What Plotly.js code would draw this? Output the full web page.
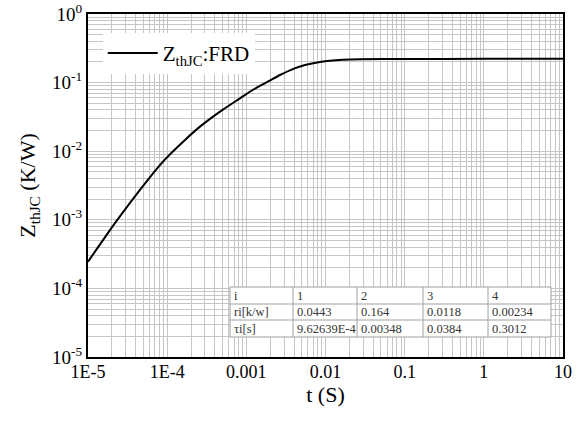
<!DOCTYPE html>
<html>
<head>
<meta charset="utf-8">
<script src="https://cdn.plot.ly/plotly-3.0.1.min.js"></script>
<style>html,body{margin:0;padding:0;background:#fff;}#chart{width:578px;height:421px;}</style>
</head>
<body>
<div id="chart"></div>
<script>
// Curve
const timeS = [1e-5, 2.26e-5, 5.67e-5, 9.4e-5, 1.68e-4, 2.6e-4, 5e-4, 8.3e-4, 1.11e-3, 1.5e-3, 2e-3, 2.66e-3, 4e-3, 5.5e-3, 8.5e-3, 0.0114, 0.0273, 0.1, 1, 10];
const zthJC = [2.45e-4, 9.4e-4, 3.8e-3, 7.6e-3, 0.0146, 0.0228, 0.040, 0.059, 0.0736, 0.090, 0.108, 0.129, 0.160, 0.180, 0.200, 0.209, 0.219, 0.221, 0.222, 0.222];
const seriesName = "Z<sub>thJC</sub>:FRD";

// Table content
const tableHeader = ["i", "1", "2", "3", "4"];
const tableRowR = ["ri[k/w]", "0.0443", "0.164", "0.0118", "0.00234"];
const tableRowTau = ["τi[s]", "9.62639E-4", "0.00348", "0.0384", "0.3012"];

// Axis ticks
const xTickVals = [1e-5, 1e-4, 1e-3, 1e-2, 0.1, 1, 10];
const xTickText = ["1E-5", "1E-4", "0.001", "0.01", "0.1", "1", "10"];
const yTickVals = [1e-5, 1e-4, 1e-3, 1e-2, 1e-1, 1];
const yTickText = ["10<sup>-5</sup>", "10<sup>-4</sup>", "10<sup>-3</sup>", "10<sup>-2</sup>", "10<sup>-1</sup>", "10<sup>0</sup>"];

const serif = "Liberation Serif";
const gridC = "#c6c6c6";

// Layout geometry helpers (pixel -> paper fraction of the plot area)
const W = 578, H = 421, mL = 88, mR = 15, mT = 14, mB = 64;
const pw = W - mL - mR, ph = H - mT - mB;
const px = v => (v - mL) / pw;
const py = v => (H - mB - v) / ph;

// Table box geometry in pixels
const colEdges = [230, 293, 357, 423, 488, 551];
const rowEdges = [287, 304, 320, 337];
const tableRows = [tableHeader, tableRowR, tableRowTau];

const shapes = [];
shapes.push({type: "rect", xref: "paper", yref: "paper",
  x0: px(colEdges[0]), x1: px(colEdges[colEdges.length - 1]),
  y0: py(rowEdges[rowEdges.length - 1]), y1: py(rowEdges[0]),
  fillcolor: "#fff", line: {color: "#a0a0a0", width: 1}, layer: "above"});
colEdges.slice(1, -1).forEach(c => shapes.push({type: "line", xref: "paper", yref: "paper",
  x0: px(c), x1: px(c), y0: py(rowEdges[rowEdges.length - 1]), y1: py(rowEdges[0]),
  line: {color: "#a0a0a0", width: 1}, layer: "above"}));
rowEdges.slice(1, -1).forEach(r => shapes.push({type: "line", xref: "paper", yref: "paper",
  x0: px(colEdges[0]), x1: px(colEdges[colEdges.length - 1]), y0: py(r), y1: py(r),
  line: {color: "#a0a0a0", width: 1}, layer: "above"}));

const annotations = [];
tableRows.forEach((row, ri) => {
  row.forEach((txt, ci) => {
    annotations.push({
      xref: "paper", yref: "paper",
      x: px(colEdges[ci] + 2), y: py((rowEdges[ri] + rowEdges[ri + 1]) / 2),
      xanchor: "left", yanchor: "middle", showarrow: false,
      text: txt, font: {family: serif, size: 12.5, color: "#333"}
    });
  });
});

const data = [
  {
    x: timeS, y: zthJC, type: "scatter", mode: "lines",
    name: seriesName,
    line: {color: "#000", width: 2, shape: "spline", smoothing: 0.5}
  }
];

const layout = {
  width: W, height: H,
  margin: {l: mL, r: mR, t: mT, b: mB},
  paper_bgcolor: "#fff", plot_bgcolor: "#fff",
  font: {family: serif, color: "#000"},
  showlegend: true,
  legend: {
    x: 0.031, y: 0.945, xanchor: "left", yanchor: "top",
    bgcolor: "#fff", borderwidth: 0,
    font: {family: serif, size: 21, color: "#000"},
    itemwidth: 50
  },
  shapes: shapes,
  annotations: annotations,
  xaxis: {
    type: "log", range: [-5, 1],
    tickvals: xTickVals, ticktext: xTickText,
    ticks: "", tickfont: {family: serif, size: 18, color: "#000"},
    ticklabelstandoff: -3,
    showgrid: true, gridcolor: gridC, gridwidth: 1,
    minor: {dtick: "D1", showgrid: true, gridcolor: gridC, gridwidth: 1, ticks: ""},
    showline: true, linecolor: "#000", linewidth: 2, mirror: true,
    zeroline: false,
    title: {text: "t (S)", font: {family: serif, size: 22, color: "#000"}, standoff: 2}
  },
  yaxis: {
    type: "log", range: [-5, 0],
    tickvals: yTickVals, ticktext: yTickText,
    ticks: "", tickfont: {family: serif, size: 19, color: "#000"},
    showgrid: true, gridcolor: gridC, gridwidth: 1,
    minor: {dtick: "D1", showgrid: true, gridcolor: gridC, gridwidth: 1, ticks: ""},
    showline: true, linecolor: "#000", linewidth: 2, mirror: true,
    zeroline: false,
    title: {text: "Z<sub>thJC</sub> (K/W)", font: {family: serif, size: 22, color: "#000"}, standoff: 10}
  }
};

Plotly.newPlot("chart", data, layout, {displayModeBar: false, staticPlot: true});
</script>
</body>
</html>
